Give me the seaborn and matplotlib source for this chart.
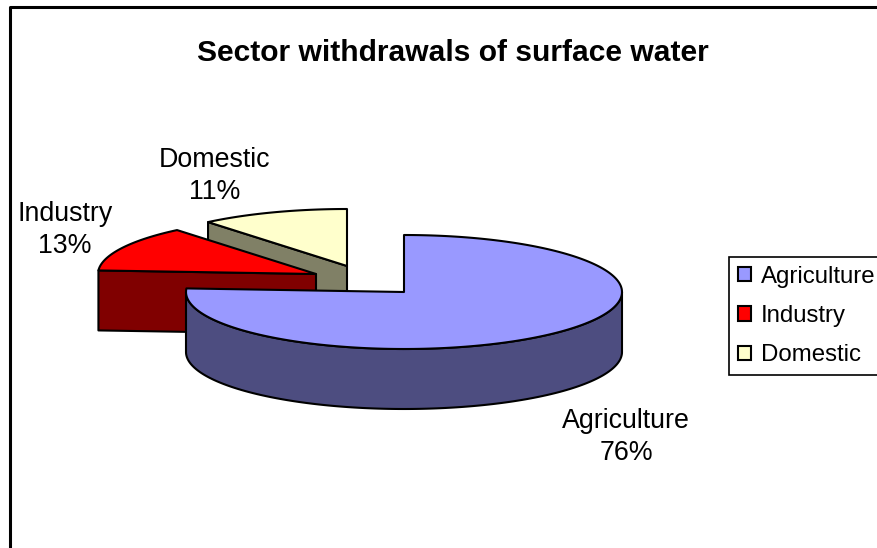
import numpy as np
import matplotlib
matplotlib.use("Agg")
import matplotlib.pyplot as plt
from matplotlib.patches import Polygon, Patch
import seaborn as sns

# Chart values
categories = ["Agriculture", "Industry", "Domestic"]
shares = [76, 13, 11]
title = "Sector withdrawals of surface water"

# Each slice is exploded to its own centre on the canvas
centers = {"Agriculture": (404, 292), "Industry": (316, 274), "Domestic": (347, 266)}
RX, RY, DEPTH = 218, 57, 60

sns.set_theme(style="white")
plt.rcParams["font.family"] = ["Liberation Sans", "DejaVu Sans"]
palette = dict(zip(categories, sns.color_palette(["#9999FF", "#FF0000", "#FFFFCC"])))
side_colors = dict(zip(categories, sns.color_palette(["#4D4D80", "#800000", "#808066"])))

fig = plt.figure(figsize=(8.78, 5.48), dpi=100, facecolor="white")
ax = fig.add_axes([0, 0, 1, 1])
ax.set_xlim(0, 878)
ax.set_ylim(548, 0)
ax.axis("off")

# Chart-area frame: only the left and top edges fall inside the canvas
ax.plot([10.5, 10.5, 880], [550, 6.5, 6.5], color="black", lw=2.2, solid_capstyle="butt", zorder=1)


def rim(cx, cy, deg):
    """Point on the projected pie ellipse, degrees clockwise from 12 o'clock."""
    t = np.radians(deg)
    return np.column_stack([cx + RX * np.sin(t), cy - RY * np.cos(t)])


edges = np.cumsum([0] + shares) * 3.6
spans = {c: (edges[i], edges[i + 1]) for i, c in enumerate(categories)}

# Far slices first so the nearer ones overlap them
for z, cat in zip((2, 3, 4), reversed(categories)):
    a0, a1 = spans[cat]
    cx, cy = centers[cat]
    style = dict(edgecolor="black", lw=1.5, joinstyle="round", zorder=z)

    # Outer wall: the part of the arc on the viewer's side
    lo, hi = max(a0, 90), min(a1, 270)
    if hi > lo:
        arc = rim(cx, cy, np.linspace(lo, hi, 200))
        wall = np.vstack([arc, arc[::-1] + [0, DEPTH]])
        ax.add_patch(Polygon(wall, facecolor=side_colors[cat], **style))

    # Cut face running from the centre out to the slice's first edge
    if cat != "Agriculture":
        end = rim(cx, cy, np.array([a0]))[0]
        face = [end, (cx, cy), (cx, cy + DEPTH), end + [0, DEPTH]]
        ax.add_patch(Polygon(face, facecolor=side_colors[cat], **style))

    # Top surface
    arc = rim(cx, cy, np.linspace(a0, a1, 200))
    ax.add_patch(Polygon(np.vstack([[cx, cy], arc]), facecolor=palette[cat], **style))

# Slice labels
label_pos = {"Agriculture": (626, 437), "Industry": (65, 230), "Domestic": (215, 176)}
for cat, share in zip(categories, shares):
    x, y = label_pos[cat]
    ax.text(x, y, f"{cat}\n{share}%", ha="center", va="center", fontsize=19.3,
            linespacing=1.32, color="black", zorder=6)

ax.text(453, 53, title, ha="center", va="center", fontsize=21.6,
        fontweight="bold", color="black", zorder=6)

# Legend with its box running off the right-hand side
handles = [Patch(facecolor=palette[c], edgecolor="black", lw=1.5, label=c) for c in categories]
leg = ax.legend(handles=handles, loc="upper left", bbox_to_anchor=(729.5, 257), bbox_transform=ax.transData,
                fontsize=17.3, labelcolor="black", frameon=True, fancybox=False, framealpha=1, edgecolor="black",
                handlelength=0.55, handleheight=0.55, handletextpad=0.40, labelspacing=0.72,
                borderpad=0.36, borderaxespad=0)
leg.get_frame().set_linewidth(1.2)
leg.set_zorder(7)

fig.savefig("out.png", dpi=100, facecolor="white")
